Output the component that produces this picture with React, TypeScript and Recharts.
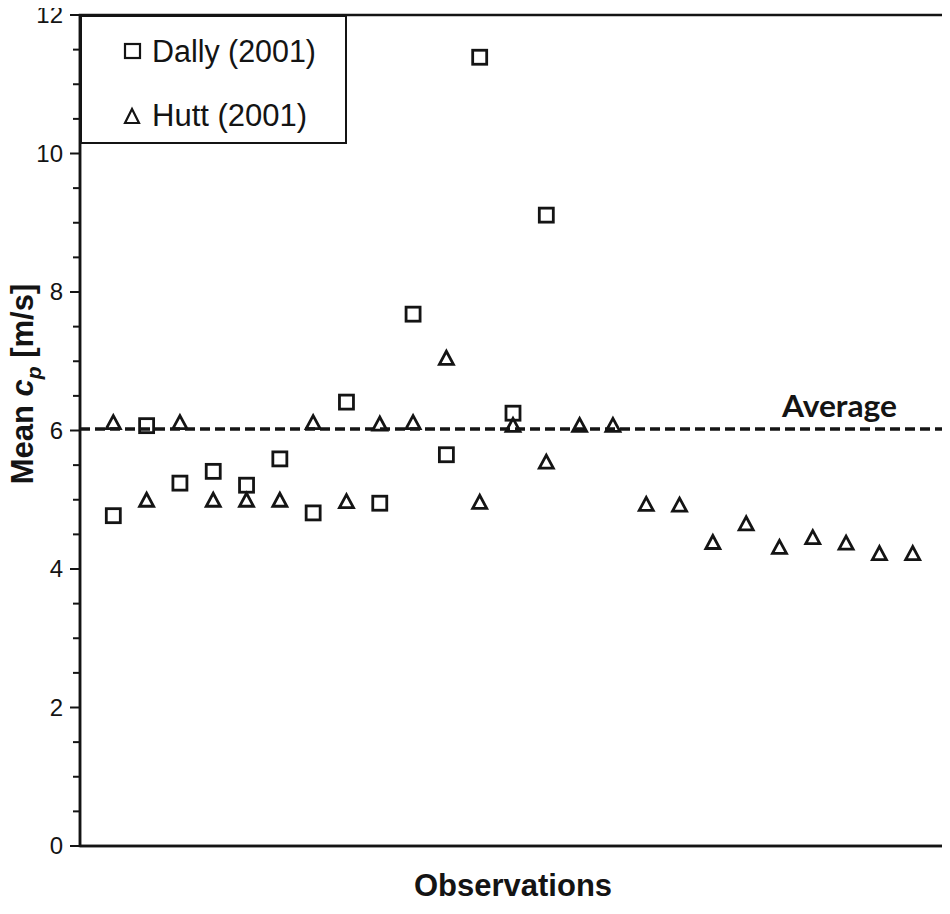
import React from "react";
import {
  ScatterChart,
  Scatter,
  XAxis,
  YAxis,
  ReferenceLine,
  ReferenceArea,
  Legend,
  Label,
} from "recharts";

// observation numbers along the x axis
const observations = [
  1, 2, 3, 4, 5, 6, 7, 8, 9, 10, 11, 12, 13, 14, 15, 16, 17, 18, 19, 20, 21, 22, 23, 24, 25,
];
const dallyCp = [4.77, 6.07, 5.24, 5.41, 5.21, 5.59, 4.81, 6.41, 4.95, 7.68, 5.65, 11.39, 6.25, 9.11];
const huttCp = [
  6.12, 5.0, 6.12, 5.0, 5.0, 5.0, 6.12, 4.98, 6.1, 6.12, 7.05, 4.97, 6.08, 5.55, 6.08, 6.08, 4.94,
  4.93, 4.39, 4.66, 4.32, 4.46, 4.38, 4.23, 4.23,
];
const averageCp = 6.02;
const yTicks = [0, 0.5, 1, 1.5, 2, 2.5, 3, 3.5, 4, 4.5, 5, 5.5, 6, 6.5, 7, 7.5, 8, 8.5, 9, 9.5, 10, 10.5, 11, 11.5, 12];
const seriesNames = ["Dally (2001)", "Hutt (2001)"];

const dallyData = dallyCp.map((v, i) => ({ x: observations[i], y: v }));
const huttData = huttCp.map((v, i) => ({ x: observations[i], y: v }));

const INK = "#141414";
const SANS = "'Liberation Sans', Arial, sans-serif";

const SquareMark = (p: any) => (
  <rect x={p.cx - 7} y={p.cy - 7} width={14} height={14} fill="none" stroke={INK} strokeWidth={2.8} />
);

const TriangleMark = (p: any) => (
  <polygon
    points={`${p.cx},${p.cy - 6.5} ${p.cx - 7},${p.cy + 6.5} ${p.cx + 7},${p.cy + 6.5}`}
    fill="none"
    stroke={INK}
    strokeWidth={2.8}
  />
);

const YTick = (props: any) => {
  const { x, y, payload } = props;
  const major = payload.value % 2 === 0;
  return (
    <g>
      <line x1={x - (major ? 10 : 7)} x2={x} y1={y} y2={y} stroke={INK} strokeWidth={2} />
      {major && (
        <text x={x - 17} y={y} dy={8} textAnchor="end" fontFamily={SANS} fontSize={24} fill={INK}>
          {payload.value}
        </text>
      )}
    </g>
  );
};

const YTitle = () => (
  <text
    transform="translate(33, 384) rotate(-90)"
    textAnchor="middle"
    fontFamily={SANS}
    fontWeight="bold"
    fontSize={31}
    fill={INK}
  >
    Mean <tspan fontStyle="italic">c</tspan>
    <tspan fontStyle="italic" fontSize={21} dy={8}>p</tspan>
    <tspan dy={-8}> [m/s]</tspan>
  </text>
);

const XTitle = (props: any) => {
  const vb = props.viewBox;
  return (
    <text
      x={vb.x + vb.width / 2}
      y={896}
      textAnchor="middle"
      fontFamily={SANS}
      fontWeight="bold"
      fontSize={31}
      fill={INK}
    >
      Observations
    </text>
  );
};

const AvgLabel = (props: any) => {
  const vb = props.viewBox;
  return (
    <text
      x={vb.x + vb.width - 164}
      y={vb.y - 12}
      textLength={115}
      lengthAdjust="spacingAndGlyphs"
      fontFamily="Lato, 'Open Sans', sans-serif"
      fontWeight="bold"
      fontSize={30}
      fill={INK}
    >
      Average
    </text>
  );
};

const LegendBox = () => (
  <div
    style={{
      width: 267,
      height: 129,
      border: `2.5px solid ${INK}`,
      boxSizing: "border-box",
      background: "#fff",
      position: "relative",
    }}
  >
    <svg width={267} height={129} style={{ position: "absolute", left: -2, top: -2, overflow: "visible" }}>
      <rect x={45} y={29} width={15} height={14} fill="none" stroke={INK} strokeWidth={2.2} />
      <polygon points="52,94 45,108 59,108" fill="none" stroke={INK} strokeWidth={2.2} />
      <text x={72} y={47} fontFamily={SANS} fontSize={31} textLength={164} lengthAdjust="spacingAndGlyphs" fill={INK}>
        {seriesNames[0]}
      </text>
      <text x={72} y={111} fontFamily={SANS} fontSize={31} fill={INK}>
        {seriesNames[1]}
      </text>
    </svg>
  </div>
);

export default function App() {
  return (
    <div style={{ marginLeft: -8, marginTop: -8, background: "#fff" }}>
      <ScatterChart width={950} height={906} margin={{ top: 15, right: 4, left: 0, bottom: 0 }}>
        <XAxis
          type="number"
          dataKey="x"
          domain={[0, 26]}
          ticks={[]}
          tick={false}
          tickLine={false}
          height={60}
          axisLine={{ stroke: INK, strokeWidth: 2.5 }}
        >
          <Label content={XTitle} />
        </XAxis>
        <YAxis
          type="number"
          dataKey="y"
          domain={[0, 12]}
          ticks={yTicks}
          interval={0}
          width={80}
          tickSize={0}
          tickMargin={0}
          tickLine={false}
          tick={YTick}
          axisLine={{ stroke: INK, strokeWidth: 2.5 }}
        >
          <Label content={YTitle} />
        </YAxis>
        <ReferenceArea x1={0} x2={26} y1={0} y2={12} fill="none" fillOpacity={0} stroke={INK} strokeWidth={2.5} />
        <ReferenceLine y={averageCp} stroke={INK} strokeWidth={3.5} strokeDasharray="10 5">
          <Label content={AvgLabel} />
        </ReferenceLine>
        <Scatter name={seriesNames[0]} data={dallyData} shape={SquareMark} isAnimationActive={false} />
        <Scatter name={seriesNames[1]} data={huttData} shape={TriangleMark} isAnimationActive={false} />
        <Legend
          layout="vertical"
          align="center"
          verticalAlign="middle"
          content={LegendBox}
          wrapperStyle={{ left: 80, top: 15, width: 267, height: 129 }}
        />
      </ScatterChart>
    </div>
  );
}
